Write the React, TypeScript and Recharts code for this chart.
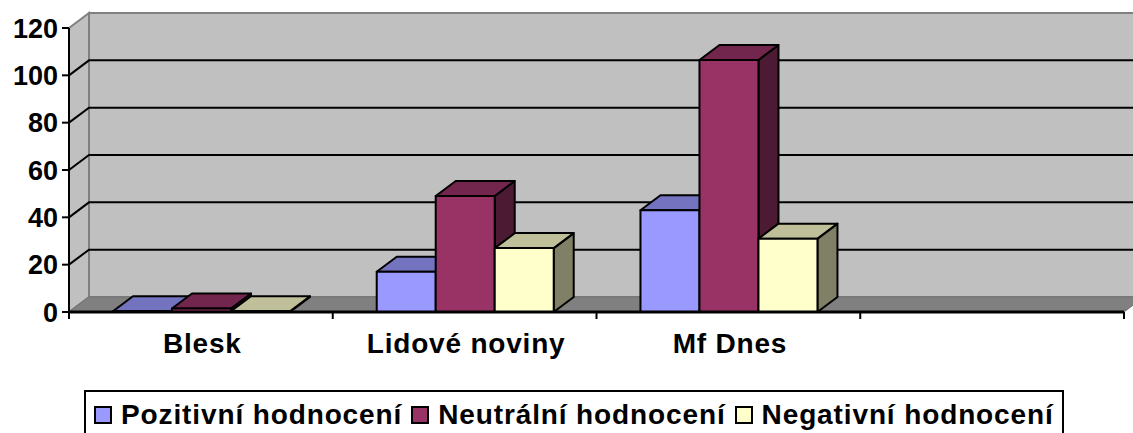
import { Bar, BarChart, CartesianGrid, Legend, XAxis, YAxis } from "recharts";

const categories = ["Blesk", "Lidové noviny", "Mf Dnes", ""];
const positive = [0.3, 17, 43, null];
const neutral = [1.5, 49, 106.5, null];
const negative = [0.3, 27, 31, null];
const yTicks = [0, 20, 40, 60, 80, 100, 120];

const seriesNames = ["Pozitivní hodnocení", "Neutrální hodnocení", "Negativní hodnocení"];
const fronts = ["#9999ff", "#993366", "#ffffcc"];
const tops = ["#7373bf", "#73264d", "#bfbf99"];
const sides = ["#4d4d80", "#4d1a33", "#808066"];

const data = categories.map((name, i) => ({
  name,
  positive: positive[i],
  neutral: neutral[i],
  negative: negative[i],
}));

const fontFamily = "'Liberation Sans', Arial, sans-serif";
const dx = 20;
const dy = -15;
const left = 69;
const right = 1124;
const top = 28;
const bottom = 312;
const tickMargin = 14;
const tickSize = 7;

// back wall, side wall and floor sit behind the (transparent) chart
function Walls() {
  return (
    <svg width={1133} height={433} style={{ position: "absolute", left: 0, top: 0 }}>
      <rect x={left + dx} y={top + dy} width={right - left} height={bottom - top} fill="#c0c0c0" stroke="#808080" strokeWidth={2} />
      <polygon
        points={`${left},${top} ${left + dx},${top + dy} ${left + dx},${bottom + dy} ${left},${bottom}`}
        fill="#c0c0c0"
        stroke="#808080"
        strokeWidth={2}
      />
      <polygon
        points={`${left},${bottom} ${left + dx},${bottom + dy} ${right + dx},${bottom + dy} ${right},${bottom}`}
        fill="#808080"
        stroke="#737373"
        strokeWidth={1}
      />
    </svg>
  );
}

function GridLine(props: any) {
  const { x1, x2, y1 } = props;
  if (Math.abs(y1 - bottom) < 1 || Math.abs(y1 - top) < 1) return <g />;
  return (
    <path
      d={`M${x1},${y1} L${x1 + dx},${y1 + dy} L${x2 + dx},${y1 + dy}`}
      fill="none"
      stroke="#000"
      strokeWidth={2}
    />
  );
}

// labels sit mid-band, tick marks on the band edges
function CategoryTick(props: any) {
  const { x, y, payload, index } = props;
  const half = payload.offset || (right - left) / categories.length / 2;
  const axisY = y - tickMargin - tickSize;
  const edge = (ex: number) => (
    <line x1={ex} x2={ex} y1={axisY} y2={axisY + tickSize} stroke="#000" strokeWidth={2} />
  );
  return (
    <g>
      {edge(x - half)}
      {index === categories.length - 1 ? edge(x + half) : null}
      <text x={x + 1.5} y={y} dy="0.71em" textAnchor="middle" fill="#000" fontSize={28} fontWeight={700} fontFamily={fontFamily} letterSpacing={0.8}>
        {payload.value}
      </text>
    </g>
  );
}

function makeBox(index: number) {
  return function Box(props: any) {
    const { x, y, width, height } = props;
    if (height == null || width == null) return <g />;
    const r = x + width;
    const b = y + height;
    return (
      <g stroke="#000" strokeWidth={2} strokeLinejoin="round">
        <polygon points={`${r},${y} ${r + dx},${y + dy} ${r + dx},${b + dy} ${r},${b}`} fill={sides[index]} />
        <polygon points={`${x},${y} ${x + dx},${y + dy} ${r + dx},${y + dy} ${r},${y}`} fill={tops[index]} />
        <rect x={x} y={y} width={width} height={height} fill={fronts[index]} />
      </g>
    );
  };
}

function LegendBox() {
  return (
    <div
      style={{
        boxSizing: "border-box",
        width: 980,
        height: 43,
        borderTop: "2px solid #000",
        borderLeft: "2px solid #000",
        borderRight: "2px solid #000",
        display: "flex",
        alignItems: "center",
        paddingLeft: 8,
        paddingTop: 5,
        fontFamily,
        fontWeight: 700,
        fontSize: 28,
        letterSpacing: 0.88,
        color: "#000",
        whiteSpace: "nowrap",
      }}
    >
      {seriesNames.map((name, i) => (
        <span key={name} style={{ display: "flex", alignItems: "center", marginRight: i < 2 ? 9 : 0 }}>
          <span
            style={{
              display: "inline-block",
              boxSizing: "border-box",
              width: 18,
              height: 18,
              background: fronts[i],
              border: "2px solid #000",
              marginRight: 9,
            }}
          />
          {name}
        </span>
      ))}
    </div>
  );
}

export default function App() {
  return (
    <div style={{ position: "absolute", left: 0, top: 0, width: 1133, height: 433, overflow: "hidden", background: "#fff" }}>
      <Walls />
      <div style={{ position: "absolute", left: 0, top: 0 }}>
        <BarChart
          width={1133}
          height={433}
          data={data}
          margin={{ top: 28, right: 9, left: 0, bottom: 38 }}
          barGap={0}
          barCategoryGap="16.67%"
        >
          <CartesianGrid vertical={false} horizontal={GridLine} />
          <XAxis
            dataKey="name"
            height={40}
            interval={0}
            tickSize={tickSize}
            tickMargin={tickMargin}
            axisLine={{ stroke: "#000", strokeWidth: 3 }}
            tickLine={false}
            tick={CategoryTick}
          />
          <YAxis
            width={69}
            domain={[0, 120]}
            ticks={yTicks}
            interval={0}
            tickSize={7}
            tickMargin={4}
            axisLine={{ stroke: "#000", strokeWidth: 2 }}
            tickLine={{ stroke: "#000", strokeWidth: 2 }}
            tick={{ fill: "#000", fontSize: 27, fontWeight: 700, fontFamily }}
          />
          <Bar dataKey="positive" name={seriesNames[0]} fill={fronts[0]} shape={makeBox(0)} isAnimationActive={false} />
          <Bar dataKey="neutral" name={seriesNames[1]} fill={fronts[1]} shape={makeBox(1)} isAnimationActive={false} />
          <Bar dataKey="negative" name={seriesNames[2]} fill={fronts[2]} shape={makeBox(2)} isAnimationActive={false} />
          <Legend content={LegendBox} wrapperStyle={{ left: 84, top: 390, width: 980, height: 43 }} />
        </BarChart>
      </div>
    </div>
  );
}
